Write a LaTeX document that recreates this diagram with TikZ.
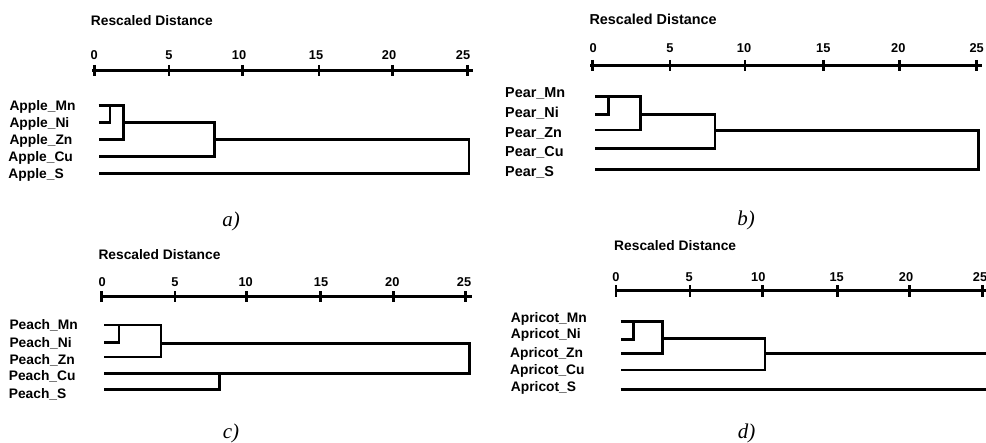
\documentclass[tikz,border=0pt]{standalone}
\usepackage{fontspec}
\setmainfont{Liberation Serif}
\setsansfont{Liberation Sans}
\begin{document}
\begin{tikzpicture}[x=1pt,y=-1pt,
  lbl/.style={font=\sffamily\bfseries\fontsize{13.8}{14}\selectfont, anchor=base west, inner sep=0pt},
  lblb/.style={lbl, font=\sffamily\bfseries\fontsize{14.4}{15}\selectfont},
  ticklbl/.style={font=\sffamily\bfseries\fontsize{12.8}{13}\selectfont, anchor=base, inner sep=0pt},
  ttl/.style={font=\sffamily\bfseries\fontsize{13.8}{14}\selectfont, anchor=base west, inner sep=0pt},
  ttlb/.style={ttl, font=\sffamily\bfseries\fontsize{14.4}{15}\selectfont},
  captxt/.style={font=\itshape\fontsize{21}{22}\selectfont, anchor=base, inner sep=0pt},
  axisline/.style={line width=3pt},
  tickmark/.style={line width=2.8pt},
  dg/.style={line width=2.6pt, line join=miter}]
\useasboundingbox (0,0) rectangle (986,443);

% ---------------- panel a ----------------
\node[ttl] (ta) at (90.7,26) {Rescaled Distance};
\foreach \x/\t [count=\i] in {94.3/0,169/5,239/10,316/15,389/20,463/25}
  \node[ticklbl] (tla\i) at (\x,59.5) {\t};
\draw[axisline] (92,70.7) -- (473,70.7);
\foreach \x in {94.3,169,242.3,319,392.7,467.7}
  \draw[tickmark] (\x,65) -- (\x,76.4);
\node[lbl] (a1) at (9.3,110.7) {Apple\_Mn};
\node[lbl] (a2) at (9.3,127.3) {Apple\_Ni};
\node[lbl] (a3) at (9.3,144.3) {Apple\_Zn};
\node[lbl] (a4) at (8.3,161.7) {Apple\_Cu};
\node[lbl] (a5) at (8.3,178.7) {Apple\_S};
\draw[dg] (98.7,105.7) -- (123.3,105.7) -- (123.3,139.3) -- (98.7,139.3);
\draw[dg] (110,105.7) -- (110,122.3) -- (98.7,122.3);
\draw[dg] (123.3,122.3) -- (214.3,122.3) -- (214.3,156.7) -- (98.7,156.7);
\draw[dg] (214.3,139.3) -- (469,139.3) -- (469,173.7) -- (99.3,173.7);
\node[captxt] (capa) at (231,226.2) {a)};

% ---------------- panel b ----------------
\node[ttlb] (tb) at (589.3,25) {Rescaled Distance};
\foreach \x/\t [count=\i] in {593.3/0,670/5,744/10,823.3/15,898.3/20,976.7/25}
  \node[ticklbl] (tlb\i) at (\x,52.8) {\t};
\draw[axisline] (590,65.3) -- (981.7,65.3);
\foreach \x in {592.7,670,745,823.3,899.3,976.7}
  \draw[tickmark] (\x,59.8) -- (\x,71);
\node[lblb] (b1) at (505,97.7) {Pear\_Mn};
\node[lblb] (b2) at (505,117.7) {Pear\_Ni};
\node[lblb] (b3) at (505,137.7) {Pear\_Zn};
\node[lblb] (b4) at (505,156.7) {Pear\_Cu};
\node[lblb] (b5) at (505,176.7) {Pear\_S};
\draw[dg] (595.3,96.7) -- (640.7,96.7) -- (640.7,130) -- (595.3,130);
\draw[dg] (608.3,96.7) -- (608.3,114.3) -- (595.3,114.3);
\draw[dg] (640.7,114.6) -- (715,114.6) -- (715,148.7) -- (595.3,148.7);
\draw[dg] (715,130.7) -- (978.3,130.7) -- (978.3,169.3) -- (595.3,169.3);
\node[captxt] (capb) at (746,225.2) {b)};

% ---------------- panel c ----------------
\node[ttl] (tc) at (98.3,259.3) {Rescaled Distance};
\foreach \x/\t [count=\i] in {102.3/0,175/5,245.7/10,321/15,392.3/20,464/25}
  \node[ticklbl] (tlc\i) at (\x,286.2) {\t};
\draw[axisline] (100,296.7) -- (471.7,296.7);
\foreach \x in {101.7,175,246.7,320.7,393.3,465.7}
  \draw[tickmark] (\x,291.2) -- (\x,302.4);
\node[lbl] (c1) at (9.3,330) {Peach\_Mn};
\node[lbl] (c2) at (9.3,347.3) {Peach\_Ni};
\node[lbl] (c3) at (9.3,364.3) {Peach\_Zn};
\node[lbl] (c4) at (8.6,381) {Peach\_Cu};
\node[lbl] (c5) at (8.6,398.3) {Peach\_S};
\draw[dg] (104,325) -- (161,325) -- (161,357) -- (104,357);
\draw[dg] (119,325) -- (119,342.3) -- (104,342.3);
\draw[dg] (161,343.3) -- (469.3,343.3) -- (469.3,373.3) -- (104,373.3);
\draw[dg] (219.3,373.3) -- (219.3,389.3) -- (104,389.3);
\node[captxt] (capc) at (231,438.5) {c)};

% ---------------- panel d ----------------
\node[ttl] (td) at (614,250.3) {Rescaled Distance};
\foreach \x/\t [count=\i] in {616/0,689.3/5,758.3/10,836.7/15,906/20,980/25}
  \node[ticklbl] (tld\i) at (\x,281.2) {\t};
\draw[axisline] (615,291) -- (992,291);
\foreach \x in {616,690,762.7,837.3,909.3,982.7}
  \draw[tickmark] (\x,285.5) -- (\x,296.7);
\node[lbl] (d1) at (510.7,322.3) {Apricot\_Mn};
\node[lbl] (d2) at (510.7,339) {Apricot\_Ni};
\node[lbl] (d3) at (510,357.3) {Apricot\_Zn};
\node[lbl] (d4) at (510,374.7) {Apricot\_Cu};
\node[lbl] (d5) at (510.7,391.7) {Apricot\_S};
\draw[dg] (620.7,321.7) -- (662.3,321.7) -- (662.3,353.3) -- (620.7,353.3);
\draw[dg] (633.3,321.7) -- (633.3,339.3) -- (620.7,339.3);
\draw[dg] (662.3,338.7) -- (765,338.7) -- (765,370) -- (620.7,370);
\draw[dg] (765,353.3) -- (992,353.3);
\draw[dg] (620.7,389.3) -- (992,389.3);
\node[captxt] (capd) at (746.7,438.5) {d)};
\end{tikzpicture}
\end{document}
